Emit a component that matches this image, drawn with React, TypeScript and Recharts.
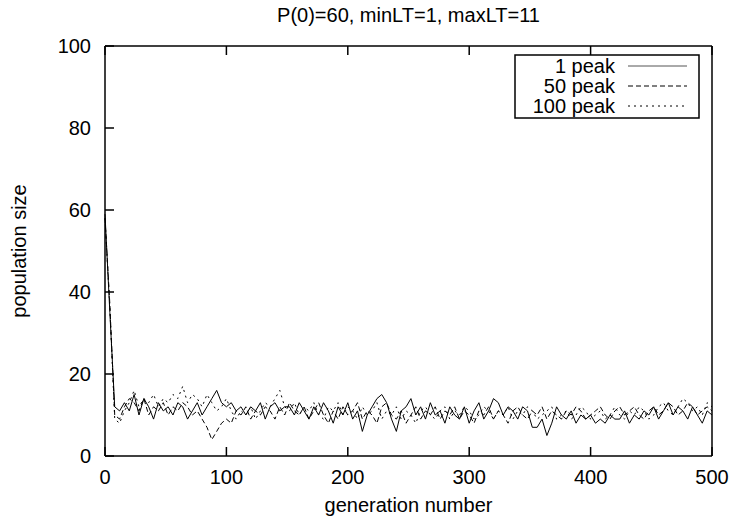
import React from 'react';
import { LineChart, Line, XAxis, YAxis, Label } from 'recharts';

const generations = [
  0, 4, 8, 12, 16, 20, 24, 28, 32, 36, 40, 44, 48, 52, 56, 60, 64, 68, 72, 76,
  80, 84, 88, 92, 96, 100, 104, 108, 112, 116, 120, 124, 128, 132, 136, 140, 144, 148, 152, 156,
  160, 164, 168, 172, 176, 180, 184, 188, 192, 196, 200, 204, 208, 212, 216, 220, 224, 228, 232, 236,
  240, 244, 248, 252, 256, 260, 264, 268, 272, 276, 280, 284, 288, 292, 296, 300, 304, 308, 312, 316,
  320, 324, 328, 332, 336, 340, 344, 348, 352, 356, 360, 364, 368, 372, 376, 380, 384, 388, 392, 396,
  400, 404, 408, 412, 416, 420, 424, 428, 432, 436, 440, 444, 448, 452, 456, 460, 464, 468, 472, 476,
  480, 484, 488, 492, 496, 500,
];

const peak1 = [
  59, 35, 12, 11, 13, 11, 15, 10, 14, 12, 9, 13, 11, 12, 10, 13, 12, 9, 11, 13,
  10, 12, 14, 16, 13, 12, 13, 11, 12, 10, 12, 11, 13, 9, 12, 13, 11, 12, 12, 10,
  13, 11, 9, 12, 10, 13, 11, 8, 12, 10, 13, 9, 11, 6, 10, 12, 14, 15, 13, 9,
  6, 11, 12, 14, 10, 12, 9, 13, 10, 11, 8, 12, 10, 9, 12, 8, 11, 13, 9, 11,
  14, 13, 10, 12, 11, 9, 12, 11, 7, 7, 9, 5, 8, 12, 10, 9, 11, 8, 10, 9,
  10, 8, 9, 8, 10, 9, 9, 11, 8, 10, 9, 11, 10, 12, 9, 11, 13, 10, 12, 11,
  9, 12, 10, 8, 11, 10,
];

const peak50 = [
  58, 37, 10, 9, 12, 14, 13, 11, 14, 10, 12, 11, 13, 10, 12, 11, 13, 12, 10, 11,
  9, 7, 4, 6, 8, 9, 8, 11, 10, 12, 9, 11, 10, 12, 11, 9, 12, 10, 13, 11,
  10, 12, 9, 11, 13, 10, 8, 11, 9, 12, 10, 11, 13, 9, 11, 10, 8, 12, 13, 10,
  9, 11, 8, 10, 12, 9, 11, 10, 12, 9, 11, 10, 12, 9, 11, 10, 8, 11, 10, 12,
  9, 11, 10, 8, 11, 12, 10, 9, 11, 10, 12, 9, 11, 10, 9, 11, 10, 12, 11, 9,
  10, 11, 12, 10, 9, 11, 12, 10, 11, 12, 10, 9, 11, 12, 10, 11, 13, 12, 10, 11,
  13, 12, 10, 11, 12, 11,
];

const peak100 = [
  58, 36, 9, 8, 11, 13, 16, 12, 14, 13, 15, 12, 14, 13, 15, 14, 17, 13, 15, 14,
  12, 15, 13, 11, 12, 14, 11, 9, 11, 10, 12, 9, 11, 13, 12, 14, 16, 12, 11, 13,
  10, 12, 11, 13, 10, 9, 12, 11, 13, 10, 12, 11, 9, 12, 10, 11, 13, 9, 11, 10,
  12, 9, 11, 10, 8, 11, 12, 10, 9, 11, 12, 9, 11, 10, 12, 11, 9, 10, 12, 11,
  9, 11, 10, 12, 9, 11, 10, 12, 11, 9, 10, 11, 12, 9, 10, 11, 9, 10, 12, 11,
  9, 10, 11, 9, 10, 12, 10, 9, 11, 10, 12, 11, 9, 10, 12, 13, 11, 10, 12, 14,
  13, 11, 12, 10, 13, 12,
];

const seriesNames = ['1 peak', '50 peak', '100 peak'];
const seriesKeys = ['p1', 'p50', 'p100'];
const seriesDash = ['', '5 3', '2 4'];

const xTicks = [0, 100, 200, 300, 400, 500];
const yTicks = [0, 20, 40, 60, 80, 100];

const title = 'P(0)=60, minLT=1, maxLT=11';
const xLabel = 'generation number';
const yLabel = 'population size';

const data = generations.map((g, i) => ({
  gen: g,
  p1: peak1[i],
  p50: peak50[i],
  p100: peak100[i],
}));

const FONT = '"Liberation Sans", Arial, Helvetica, sans-serif';
const FS = 20;
const TICK = 9;

const BottomTick = (props: any) => {
  const { x, y, payload } = props;
  return (
    <g>
      <line x1={x} y1={y} x2={x} y2={y - TICK} stroke="#000" strokeWidth={1.5} />
      <text x={x} y={y + 28} textAnchor="middle" fontSize={FS} fontFamily={FONT} fill="#000">
        {payload.value}
      </text>
    </g>
  );
};

const TopTick = (props: any) => {
  const { x, y } = props;
  return <line x1={x} y1={y} x2={x} y2={y + TICK} stroke="#000" strokeWidth={1.5} />;
};

const LeftTick = (props: any) => {
  const { x, y, payload } = props;
  return (
    <g>
      <line x1={x} y1={y} x2={x + TICK} y2={y} stroke="#000" strokeWidth={1.5} />
      <text x={x - 14} y={y + 7} textAnchor="end" fontSize={FS} fontFamily={FONT} fill="#000">
        {payload.value}
      </text>
    </g>
  );
};

const RightTick = (props: any) => {
  const { x, y } = props;
  return <line x1={x} y1={y} x2={x - TICK} y2={y} stroke="#000" strokeWidth={1.5} />;
};

const LegendBox = () => (
  <svg width={186} height={66} style={{ display: 'block' }}>
    <rect x={1} y={1} width={184} height={63} fill="#fff" stroke="#000" strokeWidth={1.5} />
    {seriesNames.map((n, i) => (
      <g key={n}>
        <text
          x={101}
          y={19 + i * 20}
          textAnchor="end"
          fontSize={FS}
          fontFamily={FONT}
          fill="#000"
        >
          {n}
        </text>
        <line
          x1={114}
          x2={173}
          y1={12 + i * 20}
          y2={12 + i * 20}
          stroke={i === 0 ? '#555' : '#000'}
          strokeWidth={1}
          strokeDasharray={seriesDash[i] || undefined}
        />
      </g>
    ))}
  </svg>
);

export default function App() {
  return (
    <div style={{ position: 'absolute', left: 0, top: 0, width: 732, height: 521, background: '#fff' }}>
      <LineChart
        width={732}
        height={521}
        data={data}
        margin={{ top: 45, right: 19, bottom: 0, left: 0 }}
      >
        <XAxis
          dataKey="gen"
          type="number"
          domain={[0, 500]}
          ticks={xTicks}
          interval={0}
          height={65}
          tickSize={0}
          tickMargin={0}
          tickLine={false}
          axisLine={{ stroke: '#000', strokeWidth: 1.5 }}
          tick={<BottomTick />}
        >
          <Label
            content={(p: any) => {
              const vb = p.viewBox || {};
              return (
                <text
                  x={vb.x + vb.width / 2}
                  y={512}
                  textAnchor="middle"
                  fontSize={FS}
                  fontFamily={FONT}
                  fill="#000"
                >
                  {xLabel}
                </text>
              );
            }}
          />
        </XAxis>
        <XAxis
          xAxisId="top"
          orientation="top"
          dataKey="gen"
          type="number"
          domain={[0, 500]}
          ticks={xTicks}
          interval={0}
          height={1}
          tickSize={0}
          tickMargin={0}
          tickLine={false}
          axisLine={{ stroke: '#000', strokeWidth: 1.5 }}
          tick={<TopTick />}
        >
          <Label
            content={(p: any) => {
              const vb = p.viewBox || {};
              return (
                <text
                  x={vb.x + vb.width / 2}
                  y={22}
                  textAnchor="middle"
                  fontSize={FS}
                  fontFamily={FONT}
                  fill="#000"
                >
                  {title}
                </text>
              );
            }}
          />
        </XAxis>
        <YAxis
          type="number"
          domain={[0, 100]}
          ticks={yTicks}
          interval={0}
          width={105}
          tickSize={0}
          tickMargin={0}
          tickLine={false}
          axisLine={{ stroke: '#000', strokeWidth: 1.5 }}
          tick={<LeftTick />}
        >
          <Label
            content={(p: any) => {
              const vb = p.viewBox || {};
              const cx = 26;
              const cy = vb.y + vb.height / 2;
              return (
                <text
                  x={cx}
                  y={cy}
                  transform={`rotate(-90 ${cx} ${cy})`}
                  textAnchor="middle"
                  fontSize={FS}
                  fontFamily={FONT}
                  fill="#000"
                >
                  {yLabel}
                </text>
              );
            }}
          />
        </YAxis>
        <YAxis
          yAxisId="right"
          orientation="right"
          type="number"
          domain={[0, 100]}
          ticks={yTicks}
          interval={0}
          width={1}
          tickSize={0}
          tickMargin={0}
          tickLine={false}
          axisLine={{ stroke: '#000', strokeWidth: 1.5 }}
          tick={<RightTick />}
        />
        {seriesKeys.map((k, i) => (
          <Line
            key={k}
            dataKey={k}
            name={seriesNames[i]}
            type="linear"
            stroke="#000"
            strokeWidth={1}
            strokeDasharray={seriesDash[i] || undefined}
            dot={false}
            activeDot={false}
            isAnimationActive={false}
          />
        ))}
      </LineChart>
      <div style={{ position: 'absolute', left: 514, top: 54 }}>
        <LegendBox />
      </div>
    </div>
  );
}
